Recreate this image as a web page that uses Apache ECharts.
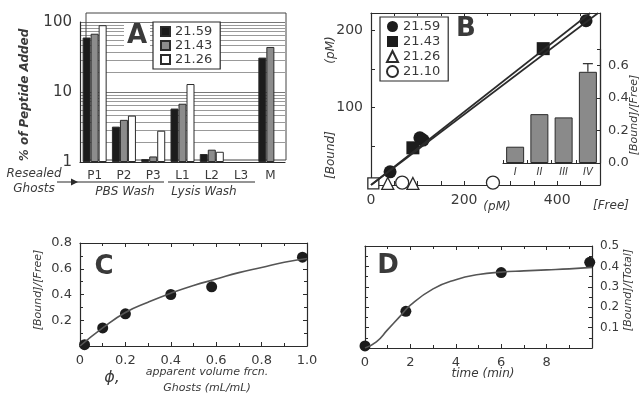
<!DOCTYPE html>
<html>
<head>
<meta charset="utf-8">
<script src="https://cdn.jsdelivr.net/npm/echarts@6/dist/echarts.min.js"></script>
<style>
  html, body { margin: 0; padding: 0; background: #fff; }
  #chart { width: 640px; height: 394px; }
</style>
</head>
<body>
<div id="chart"></div>
<script>
// panel A: % of peptide added per fraction
const fractions = ["P1", "P2", "P3", "L1", "L2", "L3", "M"];
const pct2159 = [60, 3.2, 1.1, 5.8, 1.3, null, 31];
const pct2143 = [68, 4.0, 1.2, 6.8, 1.5, null, 44];
const pct2126 = [90, 4.6, 2.8, 13, 1.4, null, null];

// panel B: [Free] vs [Bound] (pM)
const b2159 = [[41, 17], [105, 61], [112, 58], [462, 212]];
const b2143 = [[90, 48], [370, 176]];
const b2143open = [[5, 2]];
const b2126 = [[36, 2], [90, 2]];
const b2110 = [[67, 3], [262, 3]];
const bFit1 = [[0, 0], [471, 222]];
const bFit2 = [[0, 0], [488, 222]];

// panel B inset: [Bound]/[Free]
const insetCats = ["I", "II", "III", "IV"];
const insetVals = [0.10, 0.30, 0.28, 0.56];
const insetErr = [0, 0, 0, 0.05];

// panel C: bound/free vs apparent volume fraction
const cPoints = [[0.02, 0.01], [0.1, 0.14], [0.2, 0.25], [0.4, 0.40], [0.58, 0.46], [0.98, 0.69]];
const cCurve = [[0, 0], [0.1, 0.14], [0.2, 0.26], [0.3, 0.34], [0.4, 0.41], [0.5, 0.47],
  [0.6, 0.52], [0.7, 0.57], [0.8, 0.61], [0.9, 0.65], [1.0, 0.68]];

// panel D: bound/total vs time (min)
const dPoints = [[0, 0.01], [1.8, 0.18], [6, 0.37], [9.9, 0.42]];
const dCurve = [[0, 0], [0.5, 0.03], [1, 0.09], [1.5, 0.15], [2, 0.21], [3, 0.29], [4, 0.335],
  [5, 0.36], [6, 0.372], [7, 0.378], [8, 0.383], [9, 0.388], [10, 0.395]];

const FONT = "DejaVu Sans";
const INK = "#2b2b2b";
const TXT = "#3a3a3a";

const axLine = { show: true, onZero: false, lineStyle: { color: INK, width: 1.2 } };
const tickIn = (len) => ({ show: true, inside: true, length: len, lineStyle: { color: INK } });
const minorIn = { show: true, splitNumber: 2, length: 3, lineStyle: { color: INK } };
const lbl = (size, fmt) => ({ color: TXT, fontFamily: FONT, fontSize: size, formatter: fmt });
const dummy = (extra) => Object.assign({
  type: "value", axisLine: axLine, axisLabel: { show: false }, splitLine: { show: false }
}, extra);

function label(text, x, y, size, opts) {
  return Object.assign({
    type: "text", x: x, y: y, z: 10,
    style: {
      text: text, fill: TXT, font: (opts && opts.font) || ("italic " + size + "px " + FONT),
      align: "center", verticalAlign: "middle"
    }
  }, opts && opts.rot ? { rotation: opts.rot } : {});
}

const errData = insetErr.map((e, i) => e ? [i, insetVals[i], insetVals[i] + e] : null).filter(Boolean);

const option = {
  animation: false,
  backgroundColor: "#fff",
  grid: [
    { left: 80, top: 22, width: 205, height: 140 },
    { left: 371, top: 13, width: 229, height: 172 },
    { left: 503, top: 49, width: 97, height: 114 },
    { left: 80, top: 243, width: 227, height: 103 },
    { left: 365, top: 246, width: 227, height: 102 }
  ],
  legend: [
    {
      data: ["A21.59", "A21.43", "A21.26"], formatter: (n) => n.slice(1),
      left: 153, top: 22, orient: "vertical", icon: "rect", selectedMode: false,
      backgroundColor: "#fff", borderColor: INK, borderWidth: 1.2, padding: [3, 8, 3, 7],
      itemGap: 1, itemWidth: 9, itemHeight: 9,
      textStyle: { fontFamily: FONT, fontSize: 13, color: TXT }
    },
    {
      data: ["21.59", "21.43", "21.26", "21.10"],
      left: 380, top: 17, orient: "vertical", selectedMode: false,
      backgroundColor: "#fff", borderColor: INK, borderWidth: 1.2, padding: [3, 8, 3, 6],
      itemGap: 2, itemWidth: 11, itemHeight: 11,
      textStyle: { fontFamily: FONT, fontSize: 13, color: TXT }
    }
  ],
  xAxis: [
    { type: "category", gridIndex: 0, data: fractions, axisLine: axLine, axisTick: { show: false },
      axisLabel: lbl(12) },
    { type: "value", gridIndex: 1, min: 0, max: 492, interval: 50, axisLine: axLine, axisTick: tickIn(4),
      splitLine: { show: false },
      axisLabel: lbl(14, (v) => (v % 200 === 0 ? String(v) : "")) },
    dummy({ gridIndex: 1, position: "top", min: 0, max: 492, interval: 50, axisTick: tickIn(3) }),
    { type: "category", gridIndex: 2, data: insetCats, axisLine: axLine, axisTick: tickIn(3),
      axisLabel: { color: TXT, fontFamily: FONT, fontSize: 10, fontStyle: "italic", margin: 4 } },
    { type: "value", gridIndex: 3, min: 0, max: 1, interval: 0.2, axisLine: axLine, axisTick: tickIn(4),
      minorTick: minorIn, splitLine: { show: false },
      axisLabel: lbl(13, (v) => (v === 0 ? "0" : v.toFixed(1))) },
    dummy({ gridIndex: 3, position: "top", min: 0, max: 1, interval: 0.2, axisTick: tickIn(4), minorTick: minorIn }),
    { type: "value", gridIndex: 4, min: 0, max: 10, interval: 2, axisLine: axLine, axisTick: tickIn(4),
      minorTick: minorIn, splitLine: { show: false },
      axisLabel: lbl(13, (v) => (v === 10 ? "" : String(v))) },
    dummy({ gridIndex: 4, position: "top", min: 0, max: 10, interval: 2, axisTick: tickIn(4), minorTick: minorIn })
  ],
  yAxis: [
    { type: "log", gridIndex: 0, min: 1, max: 100, logBase: 10, axisLine: axLine,
      axisTick: { show: false }, axisLabel: lbl(15),
      splitLine: { show: true, lineStyle: { color: "#777", width: 1 } },
      minorTick: { show: false, splitNumber: 10 },
      minorSplitLine: { show: true, lineStyle: { color: "#999", width: 1 } } },
    { type: "value", gridIndex: 1, min: 0, max: 222, interval: 50, axisLine: axLine, axisTick: tickIn(4),
      splitLine: { show: false },
      axisLabel: lbl(14, (v) => (v === 100 || v === 200 ? String(v) : "")) },
    dummy({ gridIndex: 1, position: "right", min: 0, max: 222, interval: 50, axisTick: { show: false } }),
    { type: "value", gridIndex: 2, position: "right", min: 0, max: 0.7, interval: 0.2,
      axisLine: axLine, axisTick: tickIn(3), splitLine: { show: false },
      axisLabel: lbl(13, (v) => (Math.abs(v * 5 - Math.round(v * 5)) < 1e-6 && v < 0.65 ? v.toFixed(1) : "")) },
    { type: "value", gridIndex: 3, min: 0, max: 0.8, interval: 0.2, axisLine: axLine, axisTick: tickIn(4),
      minorTick: minorIn, splitLine: { show: false },
      axisLabel: lbl(13, (v) => (v === 0 ? "" : v.toFixed(1))) },
    dummy({ gridIndex: 3, position: "right", min: 0, max: 0.8, interval: 0.2, axisTick: tickIn(4), minorTick: minorIn }),
    { type: "value", gridIndex: 4, position: "right", min: 0, max: 0.5, interval: 0.1,
      axisLine: axLine, axisTick: tickIn(4), minorTick: minorIn, splitLine: { show: false },
      axisLabel: lbl(12, (v) => (v === 0 ? "" : v.toFixed(1))) },
    dummy({ gridIndex: 4, position: "left", min: 0, max: 0.5, interval: 0.1, axisTick: tickIn(4), minorTick: minorIn })
  ],
  series: [
    // A
    { name: "A21.59", type: "bar", xAxisIndex: 0, yAxisIndex: 0, data: pct2159, barGap: "0%", barCategoryGap: "18%",
      itemStyle: { color: "#1c1c1c", borderColor: INK, borderWidth: 1 } },
    { name: "A21.43", type: "bar", xAxisIndex: 0, yAxisIndex: 0, data: pct2143, barGap: "0%", barCategoryGap: "18%",
      itemStyle: { color: "#8c8c8c", borderColor: INK, borderWidth: 1 } },
    { name: "A21.26", type: "bar", xAxisIndex: 0, yAxisIndex: 0, data: pct2126, barGap: "0%", barCategoryGap: "18%",
      itemStyle: { color: "#ffffff", borderColor: INK, borderWidth: 1 } },
    // B
    { name: "fit1", type: "line", xAxisIndex: 1, yAxisIndex: 1, data: bFit1, showSymbol: false,
      lineStyle: { color: INK, width: 1.6 } },
    { name: "fit2", type: "line", xAxisIndex: 1, yAxisIndex: 1, data: bFit2, showSymbol: false,
      lineStyle: { color: INK, width: 1.6 } },
    { name: "21.59", type: "scatter", xAxisIndex: 1, yAxisIndex: 1, data: b2159, symbol: "circle", symbolSize: 13,
      itemStyle: { color: "#1c1c1c", opacity: 1 } },
    { name: "21.43", type: "scatter", xAxisIndex: 1, yAxisIndex: 1, data: b2143, symbol: "rect", symbolSize: 13,
      itemStyle: { color: "#1c1c1c", opacity: 1 } },
    { name: "21.43 open", type: "scatter", xAxisIndex: 1, yAxisIndex: 1, data: b2143open, symbol: "rect", symbolSize: 11,
      itemStyle: { color: "#fff", borderColor: INK, borderWidth: 1.3, opacity: 1 } },
    { name: "21.26", type: "scatter", xAxisIndex: 1, yAxisIndex: 1, data: b2126, symbol: "triangle", symbolSize: 12,
      itemStyle: { color: "#fff", borderColor: INK, borderWidth: 1.3, opacity: 1 } },
    { name: "21.10", type: "scatter", xAxisIndex: 1, yAxisIndex: 1, data: b2110, symbol: "circle", symbolSize: 13,
      itemStyle: { color: "#fff", borderColor: INK, borderWidth: 1.3, opacity: 1 } },
    // B inset
    { name: "inset", type: "bar", xAxisIndex: 3, yAxisIndex: 3, data: insetVals, barWidth: 18,
      itemStyle: { color: "#8a8a8a", borderColor: INK, borderWidth: 1 } },
    { name: "insetErr", type: "custom", xAxisIndex: 3, yAxisIndex: 3, data: errData,
      renderItem: (params, api) => {
        const lo = api.coord([api.value(0), api.value(1)]);
        const hi = api.coord([api.value(0), api.value(2)]);
        return { type: "group", children: [
          { type: "line", shape: { x1: lo[0], y1: lo[1], x2: hi[0], y2: hi[1] }, style: { stroke: INK, lineWidth: 1.2 } },
          { type: "line", shape: { x1: hi[0] - 5, y1: hi[1], x2: hi[0] + 5, y2: hi[1] }, style: { stroke: INK, lineWidth: 1.2 } }
        ] };
      } },
    // C
    { name: "cCurve", type: "line", xAxisIndex: 4, yAxisIndex: 4, data: cCurve, smooth: true, showSymbol: false,
      lineStyle: { color: "#555", width: 1.6 } },
    { name: "cPts", type: "scatter", xAxisIndex: 4, yAxisIndex: 4, data: cPoints, symbolSize: 11,
      itemStyle: { color: "#1c1c1c", opacity: 1 } },
    // D
    { name: "dCurve", type: "line", xAxisIndex: 6, yAxisIndex: 6, data: dCurve, smooth: true, showSymbol: false,
      lineStyle: { color: "#555", width: 1.6 } },
    { name: "dPts", type: "scatter", xAxisIndex: 6, yAxisIndex: 6, data: dPoints, symbolSize: 11,
      itemStyle: { color: "#1c1c1c", opacity: 1 } }
  ],
  graphic: [
    // back wall of panel A
    { type: "rect", z: 1, shape: { x: 86, y: 13, width: 200, height: 147 }, style: { fill: "none", stroke: "#444", lineWidth: 1 } },
    { type: "rect", z: 9, shape: { x: 124, y: 24, width: 26, height: 24 }, style: { fill: "#fff" } },
    // panel letters
    label("A", 137, 36, 26, { font: "bold 26px " + FONT }),
    label("B", 466, 29, 26, { font: "bold 26px " + FONT }),
    label("C", 104, 267, 26, { font: "bold 26px " + FONT }),
    label("D", 388, 266, 26, { font: "bold 26px " + FONT }),
    // A texts
    label("% of Peptide Added", 25, 95, 12, { font: "italic bold 12px " + FONT, rot: Math.PI / 2 }),
    label("Resealed", 34, 174, 12),
    label("Ghosts", 34, 189, 12),
    label("PBS Wash", 125, 192, 12),
    label("Lysis Wash", 204, 192, 12),
    { type: "line", shape: { x1: 57, y1: 182, x2: 164, y2: 182 }, style: { stroke: INK, lineWidth: 1.2 } },
    { type: "line", shape: { x1: 168, y1: 182, x2: 255, y2: 182 }, style: { stroke: INK, lineWidth: 1.2 } },
    { type: "polygon", shape: { points: [[78, 182], [71, 178.5], [71, 185.5]] }, style: { fill: INK } },
    // B texts
    label("(pM)", 331, 50, 12, { rot: Math.PI / 2 }),
    label("[Bound]", 331, 155, 12, { rot: Math.PI / 2 }),
    label("(pM)", 497, 207, 12),
    label("[Free]", 611, 206, 12),
    label("[Bound]/[Free]", 634, 115, 11, { rot: Math.PI / 2 }),
    // C texts
    label("\u03d5,", 112, 378, 16),
    label("apparent volume frcn.", 207, 372, 11),
    label("Ghosts (mL/mL)", 207, 388, 11),
    label("[Bound]/[Free]", 38, 290, 11, { rot: Math.PI / 2 }),
    // D texts
    label("time (min)", 483, 374, 12),
    label("[Bound]/[Total]", 628, 290, 11, { rot: Math.PI / 2 })
  ]
};

const myChart = echarts.init(document.getElementById("chart"), null, { renderer: "canvas" });
myChart.setOption(option);
</script>
</body>
</html>
